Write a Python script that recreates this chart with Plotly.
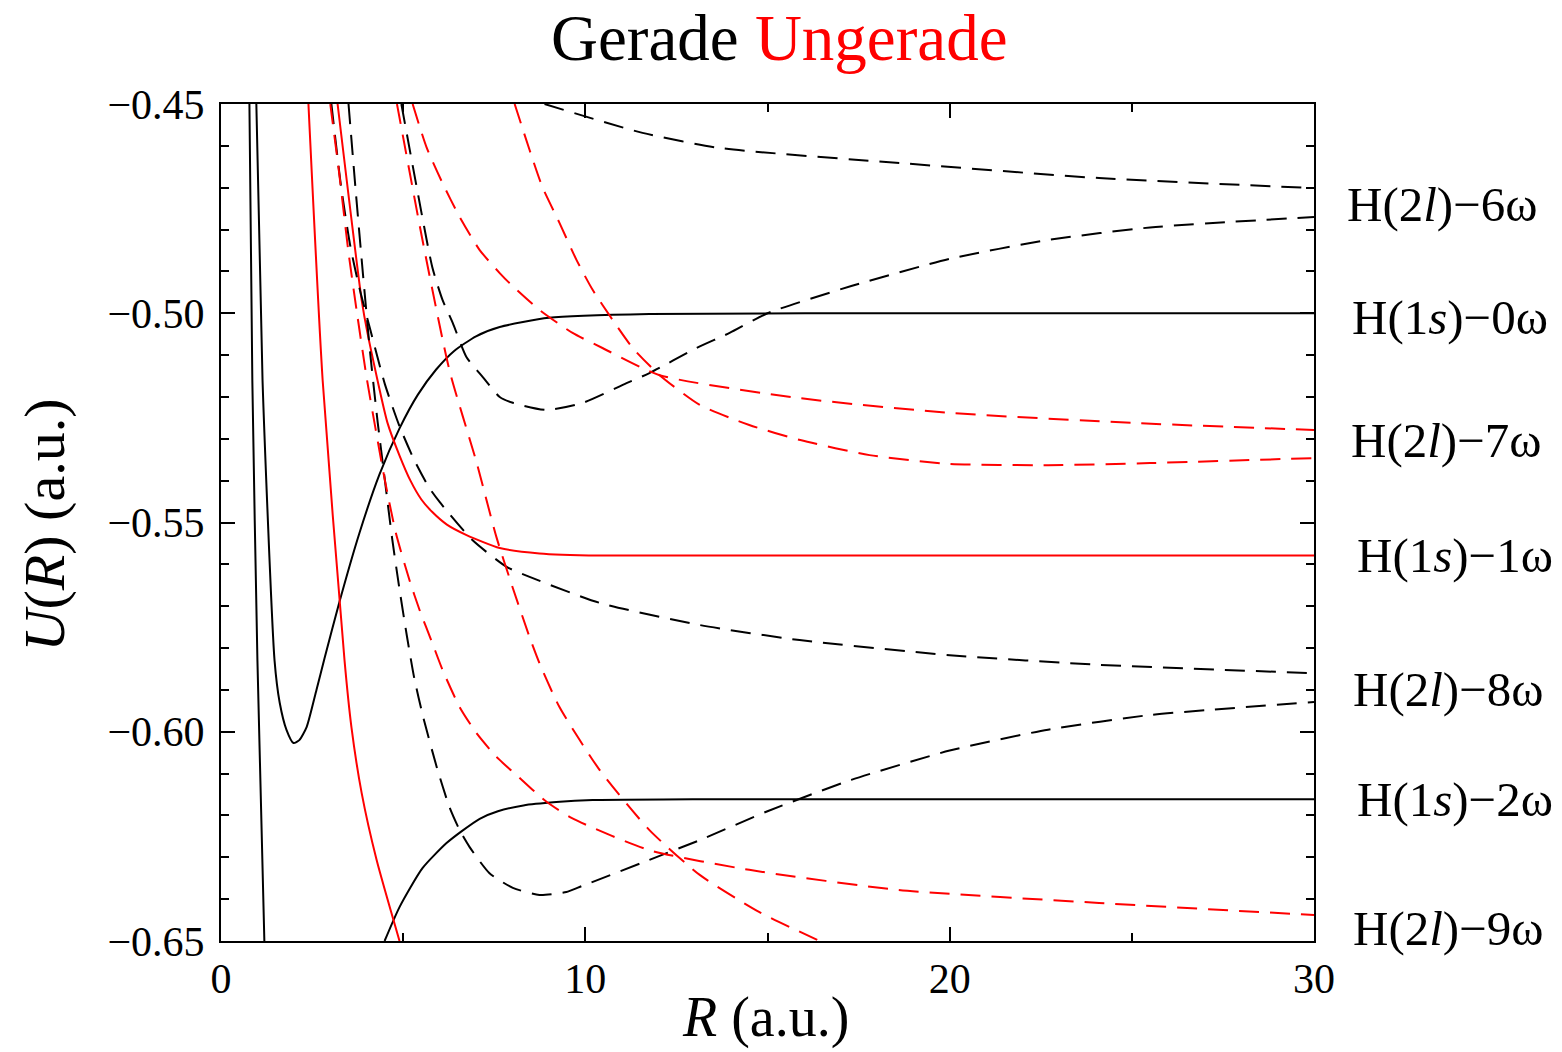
import plotly.graph_objects as go

# ---------------- data ----------------
# Gerade, solid: H(1s)-0w
g_s0_R = [0.97, 1.14, 1.47, 1.61, 1.80, 1.99, 2.15, 2.35, 2.62, 2.84, 3.25, 3.80, 4.35, 4.90, 5.40, 5.90, 6.40, 7.00, 7.65, 9.00, 11.76, 20.0, 30.0]
g_s0_U = [-0.450, -0.516, -0.583, -0.593, -0.5996, -0.6027, -0.6020, -0.5989, -0.5900, -0.5825, -0.5690, -0.5525, -0.5385, -0.5275, -0.5195, -0.5135, -0.5090, -0.5055, -0.5033, -0.5011, -0.5002, -0.5000, -0.5000]

# Gerade, solid: H(1s)-2w (inner wall + outer branch)
g_s2_R = [0.78, 0.86, 1.00, 1.19, None, 4.49, 4.90, 5.53, 6.19, 6.60, 7.10, 7.60, 8.30, 9.20, 10.2, 13.1, 30.0]
g_s2_U = [-0.450, -0.516, -0.583, -0.650, None, -0.650, -0.6419, -0.6326, -0.6266, -0.6238, -0.6208, -0.6190, -0.6176, -0.6168, -0.6163, -0.6161, -0.6161]

# Ungerade, solid: repulsive wall
u_rep_R = [2.40, 2.79, 3.39, 3.58, 3.86, 4.27, 4.90]
u_rep_U = [-0.450, -0.516, -0.5829, -0.5989, -0.6146, -0.6306, -0.650]

# Ungerade, solid: H(1s)-1w
u_s1_R = [3.20, 3.86, 4.02, 4.57, 4.90, 5.20, 5.50, 5.80, 6.20, 6.74, 7.65, 8.74, 10.39, 30.0]
u_s1_U = [-0.450, -0.4968, -0.5047, -0.5262, -0.5340, -0.5400, -0.5445, -0.5475, -0.5505, -0.5530, -0.5561, -0.5574, -0.5579, -0.5579]

# Gerade, dashed: H(2l)-6w upper / lower
g_d6u_R = [8.88, 11.57, 13.68, 18.62, 24.1, 30.0]
g_d6u_U = [-0.450, -0.4569, -0.4605, -0.4641, -0.4677, -0.4701]
g_d6l_R = [4.95, 5.37, 5.80, 6.08, 6.36, 6.74, 7.18, 7.65, 8.01, 8.93, 9.93, 11.13, 11.76, 13.05, 13.96, 15.0, 17.3, 20.0, 22.7, 25.5, 30.0]
g_d6l_U = [-0.450, -0.4698, -0.4890, -0.4968, -0.5023, -0.5105, -0.5152, -0.5200, -0.5214, -0.5231, -0.5214, -0.5167, -0.5143, -0.5083, -0.5047, -0.5000, -0.4935, -0.4870, -0.4825, -0.4795, -0.4770]

# Gerade, dashed: H(2l)-8w upper / lower
g_d8u_R = [3.03, 3.30, 3.55, 3.80, 4.10, 4.50, 4.90, 5.30, 5.70, 6.00, 6.90, 7.84, 8.47, 10.39, 13.14, 15.88, 20.0, 24.1, 30.0]
g_d8u_U = [-0.450, -0.470, -0.484, -0.494, -0.504, -0.517, -0.527, -0.535, -0.5415, -0.5451, -0.5542, -0.5606, -0.5630, -0.5692, -0.5745, -0.5781, -0.5817, -0.5840, -0.5860]
g_d8l_R = [3.50, 3.70, 3.90, 4.10, 4.30, 4.50, 4.70, 4.90, 5.10, 5.30, 5.55, 5.92, 6.27, 6.55, 6.82, 7.37, 8.01, 8.74, 9.48, 9.84, 11.76, 13.14, 15.0, 17.3, 20.0, 22.7, 25.5, 30.0]
g_d8l_U = [-0.450, -0.471, -0.491, -0.510, -0.526, -0.540, -0.554, -0.566, -0.577, -0.587, -0.5965, -0.6084, -0.6180, -0.6235, -0.6275, -0.6338, -0.6373, -0.6390, -0.6383, -0.6371, -0.6306, -0.6259, -0.6190, -0.6115, -0.6045, -0.5995, -0.5960, -0.5929]

# Ungerade, dashed: H(2l)-7w upper / lower
u_d7u_R = [5.26, 5.64, 6.08, 6.55, 7.10, 7.65, 7.92, 8.74, 9.65, 10.47, 12.04, 15.9, 20.0, 25.0, 30.0]
u_d7u_U = [-0.450, -0.4603, -0.4689, -0.4770, -0.4849, -0.4904, -0.4928, -0.4992, -0.5047, -0.5083, -0.5148, -0.5203, -0.5238, -0.5262, -0.5279]
u_d7l_R = [8.06, 8.47, 8.82, 9.29, 9.76, 10.20, 10.75, 11.30, 12.04, 13.14, 14.5, 15.9, 17.8, 20.0, 22.7, 25.5, 30.0]
u_d7l_U = [-0.450, -0.461, -0.4698, -0.4784, -0.4873, -0.4944, -0.5016, -0.5083, -0.5148, -0.5219, -0.5267, -0.5303, -0.5339, -0.5360, -0.5363, -0.5358, -0.5346]

# Ungerade, dashed: H(2l)-9w upper / lower
u_d9u_R = [3.00, 3.25, 3.50, 3.75, 4.00, 4.25, 4.50, 4.80, 5.17, 5.45, 5.80, 6.08, 6.55, 7.01, 7.56, 8.19, 8.90, 9.62, 11.76, 14.5, 18.6, 24.1, 30.0]
u_d9u_U = [-0.450, -0.467, -0.4855, -0.501, -0.5155, -0.528, -0.540, -0.5525, -0.5637, -0.5709, -0.5788, -0.5852, -0.5941, -0.6003, -0.6060, -0.6110, -0.6165, -0.6206, -0.6283, -0.6330, -0.6378, -0.6409, -0.6438]
u_d9l_R = [4.83, 5.53, 6.27, 7.01, 7.56, 8.00, 8.47, 8.74, 9.29, 10.39, 11.76, 13.14, 14.78, 16.43]
u_d9l_U = [-0.450, -0.4825, -0.5136, -0.5355, -0.5535, -0.5654, -0.5774, -0.5836, -0.5941, -0.6091, -0.6235, -0.6342, -0.6431, -0.650]

# asymptote labels
asym_labels = ["H(2<i>l</i>)\u22126\u03c9", "H(1<i>s</i>)\u22120\u03c9", "H(2<i>l</i>)\u22127\u03c9",
               "H(1<i>s</i>)\u22121\u03c9", "H(2<i>l</i>)\u22128\u03c9", "H(1<i>s</i>)\u22122\u03c9",
               "H(2<i>l</i>)\u22129\u03c9"]
asym_U = [-0.4741, -0.5011, -0.5303, -0.5578, -0.5900, -0.6163, -0.6469]
asym_X = [1.1172, 1.1245, 1.1210, 1.1290, 1.1235, 1.1290, 1.1235]

x_ticks = [0, 10, 20, 30]
y_ticks = [-0.65, -0.60, -0.55, -0.50, -0.45]

# ---------------- figure ----------------
FONT = "Liberation Serif"
BLACK = "black"
RED = "#ff0000"
DASH = "20px,11px"

fig = go.Figure()

def add(R, U, color, dash=None):
    fig.add_trace(go.Scatter(
        x=R, y=U, mode="lines",
        line=dict(color=color, width=2, dash=dash if dash else "solid", shape="spline", smoothing=0.6),
        connectgaps=False, showlegend=False, hoverinfo="skip"))

add(g_s0_R, g_s0_U, BLACK)
add(g_s2_R, g_s2_U, BLACK)
add(u_rep_R, u_rep_U, RED)
add(u_s1_R, u_s1_U, RED)
add(g_d6u_R, g_d6u_U, BLACK, DASH)
add(g_d6l_R, g_d6l_U, BLACK, DASH)
add(g_d8u_R, g_d8u_U, BLACK, DASH)
add(g_d8l_R, g_d8l_U, BLACK, DASH)
add(u_d7u_R, u_d7u_U, RED, DASH)
add(u_d7l_R, u_d7l_U, RED, DASH)
add(u_d9u_R, u_d9u_U, RED, DASH)
add(u_d9l_R, u_d9l_U, RED, DASH)

axis_common = dict(
    showline=True, linecolor="black", linewidth=2, mirror="ticks",
    ticks="inside", ticklen=14, tickwidth=2, tickcolor="black",
    showgrid=False, zeroline=False,
    tickfont=dict(family=FONT, size=42, color="black"),
)

fig.update_xaxes(range=[0, 30], tickvals=x_ticks, ticktext=[str(v) for v in x_ticks],
                 minor=dict(dtick=5, tick0=0, ticks="inside", ticklen=8, tickwidth=2, tickcolor="black"),
                 ticklabelstandoff=0, **axis_common)
fig.update_yaxes(range=[-0.65, -0.45], tickvals=y_ticks, tickformat=".2f",
                 minor=dict(dtick=0.01, tick0=-0.65, ticks="inside", ticklen=8, tickwidth=2, tickcolor="black"),
                 ticklabelstandoff=6, **axis_common)

annotations = []
for txt, u, xp in zip(asym_labels, asym_U, asym_X):
    annotations.append(dict(x=xp, xref="paper", y=u, yref="y", text=txt, showarrow=False,
                            xanchor="center", yanchor="middle",
                            font=dict(family=FONT, size=49, color="black")))
annotations.append(dict(x=0.511, xref="paper", y=1.079, yref="paper",
                        text="Gerade <span style='color:#ff0000'>Ungerade</span>",
                        showarrow=False, xanchor="center", yanchor="middle",
                        font=dict(family=FONT, size=65, color="black")))
annotations.append(dict(x=-0.1616, xref="paper", y=0.497, yref="paper",
                        text="<i>U</i>(<i>R</i>) (a.u.)", textangle=-90,
                        showarrow=False, xanchor="center", yanchor="middle",
                        font=dict(family=FONT, size=58, color="black")))
annotations.append(dict(x=0.498, xref="paper", y=-0.0915, yref="paper",
                        text="<i>R</i> (a.u.)",
                        showarrow=False, xanchor="center", yanchor="middle",
                        font=dict(family=FONT, size=56, color="black")))

fig.update_layout(
    width=1562, height=1052,
    margin=dict(l=221, r=248, t=104, b=111, pad=0),
    paper_bgcolor="white", plot_bgcolor="white",
    annotations=annotations,
    showlegend=False,
)

fig.write_html("out.html")
